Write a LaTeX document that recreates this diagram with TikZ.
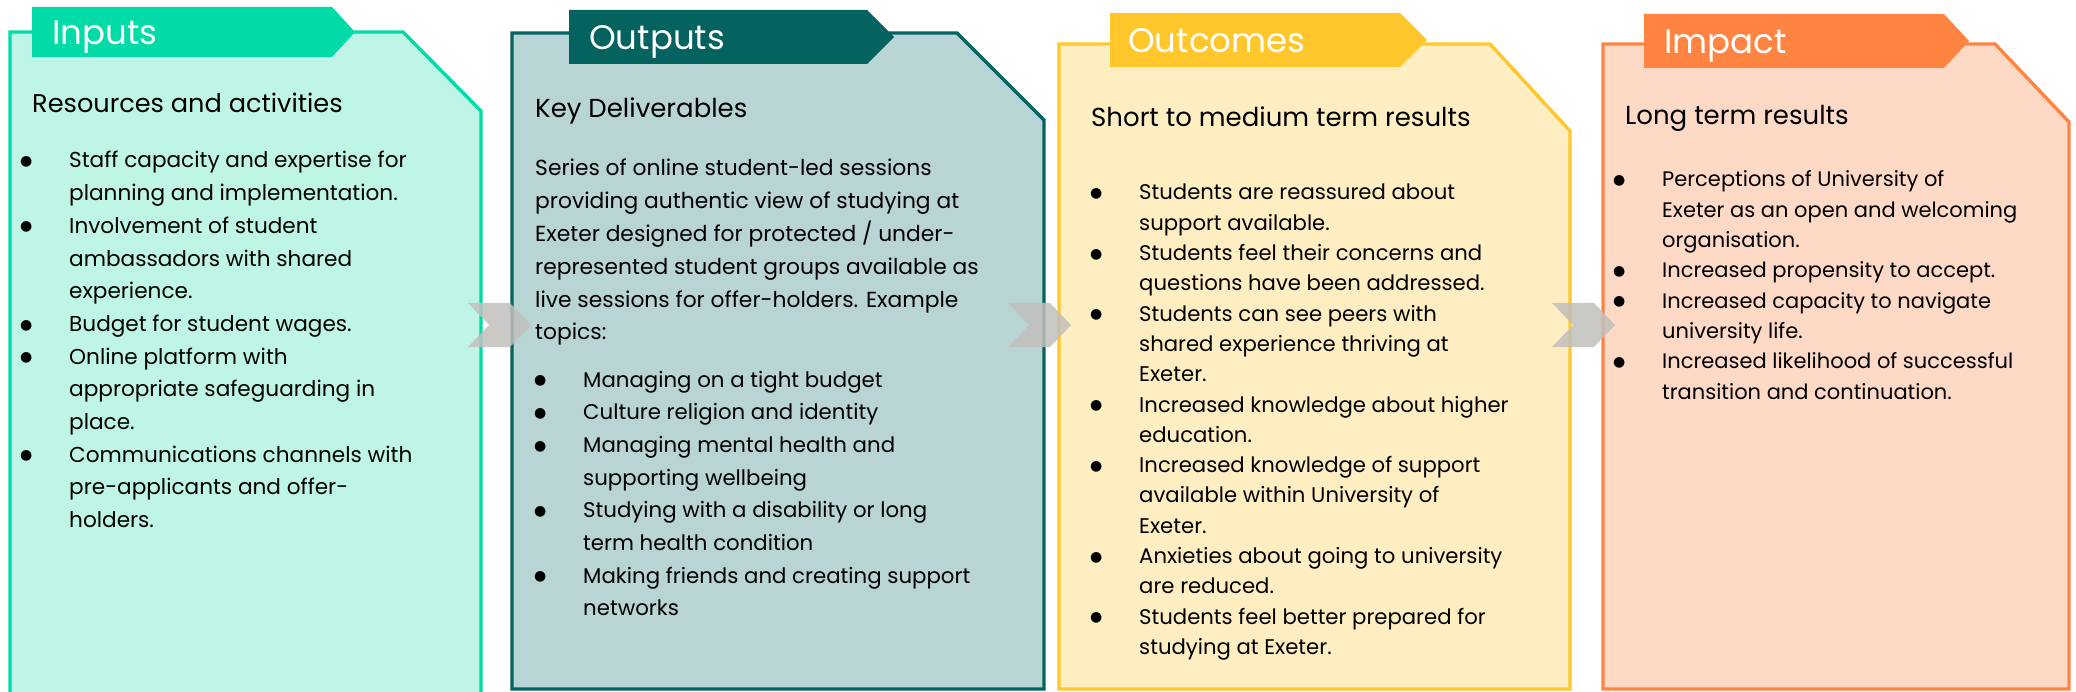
\documentclass[tikz,border=0pt]{standalone}
\usepackage{fontspec}
\setmainfont{Poppins}
\newfontfamily\dotfont{DejaVu Sans}

\definecolor{inputsdark}{HTML}{00DBA8}
\definecolor{inputslight}{HTML}{BFF5E7}
\definecolor{outputsdark}{HTML}{04635F}
\definecolor{outputslight}{HTML}{B8D4D4}
\definecolor{outcomesdark}{HTML}{FFC72C}
\definecolor{outcomeslight}{HTML}{FFEEC2}
\definecolor{impactdark}{HTML}{FF8441}
\definecolor{impactlight}{HTML}{FEDAC6}
\definecolor{chevrongrey}{HTML}{C2BFBC}

% bullet hanging 43pt left of the item text
\newcommand{\bul}{\llap{\makebox[86pt]{\raisebox{2.4pt}{\dotfont\fontsize{14}{14}\selectfont ●}}}}

\begin{document}
\begin{tikzpicture}[x=1pt, y=-1pt,
    tablabel/.style={anchor=base west, inner sep=0pt, text=white, font=\fontsize{34}{40}\selectfont},
    heading/.style={anchor=base west, inner sep=0pt, font=\fontsize{26}{32}\selectfont},
    body/.style={anchor=base west, inner sep=0pt},
    frame/.style={line width=3.4pt, line join=miter}]
      \clip (0,0) rectangle (2076,692);

      % inputs
      \draw[frame, draw=inputsdark, fill=inputslight] (10,32) -- (403,32) -- (481,111) -- (481,720) -- (10,720) -- cycle;
      \fill[inputsdark] (32,7) -- (332,7) -- (355,32) -- (332,57) -- (32,57) -- cycle;
      \node[tablabel] (inputs) at (52,45) {Inputs};
      \node[heading, font=\fontsize{25.6}{32}\selectfont] (inputshead) at (32,113) {Resources and activities};
      \node[body, font=\fontsize{21.6}{32.7}\selectfont] (inputslist) at (69,168) {%
        \begin{tabular}[t]{@{}l@{}}
        \bul Staff capacity and expertise for\\
        planning and implementation.\\
        \bul Involvement of student\\
        ambassadors with shared\\
        experience.\\
        \bul Budget for student wages.\\
        \bul Online platform with\\
        appropriate safeguarding in\\
        place.\\
        \bul Communications channels with\\
        pre-applicants and offer-\\
        holders.
        \end{tabular}};

      % outputs
      \draw[frame, draw=outputsdark, fill=outputslight] (512,33) -- (957,33) -- (1044,120) -- (1044,689) -- (512,689) -- cycle;
      \fill[outputsdark] (569,10) -- (867,10) -- (894,37) -- (867,64) -- (569,64) -- cycle;
      \node[tablabel] (outputs) at (589,50) {Outputs};
      \node[heading] (outputshead) at (535,118) {Key Deliverables};
      \node[body, font=\fontsize{21.8}{32.8}\selectfont] (outputstext) at (535,176) {%
        \begin{tabular}[t]{@{}l@{}}
        Series of online student-led sessions\\
        providing authentic view of studying at\\
        Exeter designed for protected / under-\\
        represented student groups available as\\
        live sessions for offer-holders. Example\\
        topics:
        \end{tabular}};
      \node[body, font=\fontsize{21.3}{32.7}\selectfont] (outputslist) at (583,387) {%
        \begin{tabular}[t]{@{}l@{}}
        \bul Managing on a tight budget\\
        \bul Culture religion and identity\\
        \bul Managing mental health and\\
        supporting wellbeing\\
        \bul Studying with a disability or long\\
        term health condition\\
        \bul Making friends and creating support\\
        networks
        \end{tabular}};

      % outcomes
      \draw[frame, draw=outcomesdark, fill=outcomeslight] (1059,44) -- (1490,44) -- (1570,131) -- (1570,689) -- (1059,689) -- cycle;
      \fill[outcomesdark] (1110,13) -- (1400,13) -- (1427,40) -- (1400,67) -- (1110,67) -- cycle;
      \node[tablabel] (outcomes) at (1128,53) {Outcomes};
      \node[heading] (outcomeshead) at (1091,127) {Short to medium term results};
      \node[body, font=\fontsize{21.2}{30.3}\selectfont] (outcomeslist) at (1139,200) {%
        \begin{tabular}[t]{@{}l@{}}
        \bul Students are reassured about\\
        support available.\\
        \bul Students feel their concerns and\\
        questions have been addressed.\\
        \bul Students can see peers with\\
        shared experience thriving at\\
        Exeter.\\
        \bul Increased knowledge about higher\\
        education.\\
        \bul Increased knowledge of support\\
        available within University of\\
        Exeter.\\
        \bul Anxieties about going to university\\
        are reduced.\\
        \bul Students feel better prepared for\\
        studying at Exeter.
        \end{tabular}};

      % impact
      \draw[frame, draw=impactdark, fill=impactlight] (1603,44) -- (1995,44) -- (2069,122) -- (2069,689) -- (1603,689) -- cycle;
      \fill[impactdark] (1644,14) -- (1944,14) -- (1969,41) -- (1944,68) -- (1644,68) -- cycle;
      \node[tablabel] (impact) at (1664,54) {Impact};
      \node[heading] (impacthead) at (1625,125) {Long term results};
      \node[body, font=\fontsize{21}{30.3}\selectfont] (impactlist) at (1662,187) {%
        \begin{tabular}[t]{@{}l@{}}
        \bul Perceptions of University of\\
        Exeter as an open and welcoming\\
        organisation.\\
        \bul Increased propensity to accept.\\
        \bul Increased capacity to navigate\\
        university life.\\
        \bul Increased likelihood of successful\\
        transition and continuation.
        \end{tabular}};

      % chevrons between the columns
      \foreach \x in {468,1008,1552}
        \fill[chevrongrey, opacity=0.85] (\x,303) -- ++(42,0) -- ++(21,22) -- ++(-21,22) -- ++(-42,0) -- ++(21,-22) -- cycle;

\end{tikzpicture}
\end{document}
